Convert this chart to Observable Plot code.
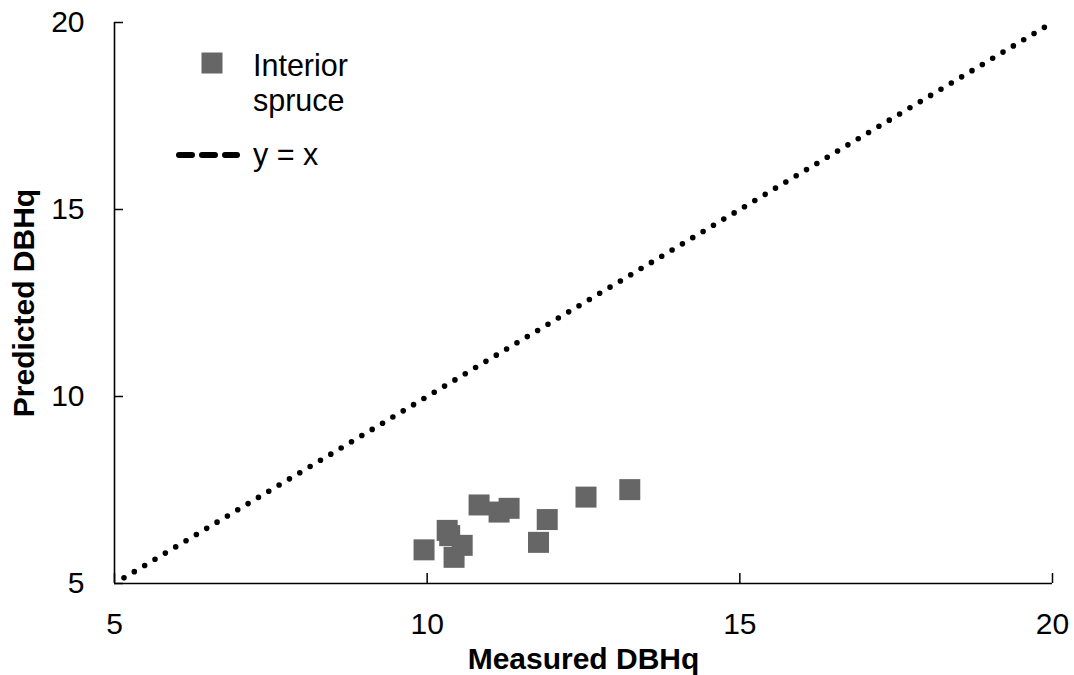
<!DOCTYPE html>
<html><head><meta charset="utf-8">
<script src="https://cdn.jsdelivr.net/npm/d3@7"></script>
<script src="https://cdn.jsdelivr.net/npm/@observablehq/plot@0.6"></script>
<style>
html,body{margin:0;padding:0;background:#fff;}
#wrap{position:relative;width:1074px;height:675px;}
#legend{position:absolute;left:0;top:0;pointer-events:none;}
</style></head><body>
<div id="wrap"></div>
<script>
// Data
const measured  = [9.95, 10.32, 10.36, 10.43, 10.56, 10.83, 11.15, 11.31, 11.92, 11.78, 12.54, 13.24];
const predicted = [5.90, 6.42, 6.28, 5.70, 6.02, 7.10, 6.91, 7.01, 6.71, 6.10, 7.31, 7.51];
const xTicks = [5, 10, 15, 20];
const yTicks = [5, 10, 15, 20];
const identityLine = [5, 20];
const seriesLabel = ["Interior", "spruce"];
const lineLabel = "y = x";
const xTitle = "Measured DBHq";
const yTitle = "Predicted DBHq";

const points = measured.map((m, i) => ({measured: m, predicted: predicted[i]}));

const font = "'Liberation Sans', Arial, Helvetica, sans-serif";

const chart = Plot.plot({
  width: 1074, height: 675,
  marginLeft: 114, marginRight: 22, marginTop: 22, marginBottom: 92,
  style: {fontFamily: font, fontSize: "30px", color: "#000", background: "#fff", overflow: "visible"},
  x: {domain: [5, 20]},
  y: {domain: [5, 20]},
  marks: [
    Plot.axisX({ticks: xTicks, tickSize: -10, tickPadding: 39, tickFormat: d => String(d),
      label: xTitle, labelAnchor: "center", labelOffset: 85, labelArrow: "none", strokeWidth: 1.5}),
    Plot.axisY({ticks: yTicks, tickSize: -9, tickPadding: 39, tickFormat: d => String(d),
      label: yTitle, labelAnchor: "center", labelOffset: 102, labelArrow: "none", strokeWidth: 1.5}),
    Plot.ruleX([5], {stroke: "#000", strokeWidth: 1.6}),
    Plot.ruleY([5], {stroke: "#000", strokeWidth: 1.6}),
    Plot.line(identityLine, {x: d => d, y: d => d, stroke: "#000", strokeWidth: 5.6,
      strokeDasharray: "0 12.05", strokeLinecap: "round", strokeDashoffset: 1}),
    Plot.dot(points, {x: "measured", y: "predicted", symbol: "square", r: 11.85, fill: "#666", stroke: "none"})
  ]
});

chart.querySelectorAll('[aria-label$="axis label"] text, [aria-label$="axis label"]').forEach(el => {
  el.setAttribute("font-weight", "bold");
});

const wrap = document.getElementById("wrap");
wrap.appendChild(chart);

// Legend overlay
const lg = d3.create("svg").attr("id", "legend").attr("width", 1074).attr("height", 675)
  .attr("font-family", font).attr("font-size", 30.5);
lg.append("rect").attr("x", 201.5).attr("y", 52.5).attr("width", 21).attr("height", 21).attr("fill", "#666");
lg.append("text").attr("x", 253).attr("y", 76).text(seriesLabel[0]);
lg.append("text").attr("x", 253).attr("y", 111).text(seriesLabel[1]);
lg.append("line").attr("x1", 179).attr("x2", 237).attr("y1", 155).attr("y2", 155)
  .attr("stroke", "#000").attr("stroke-width", 6).attr("stroke-linecap", "round").attr("stroke-dasharray", "13 10");
lg.append("text").attr("x", 253).attr("y", 165).text(lineLabel);
wrap.appendChild(lg.node());
</script>
</body></html>
